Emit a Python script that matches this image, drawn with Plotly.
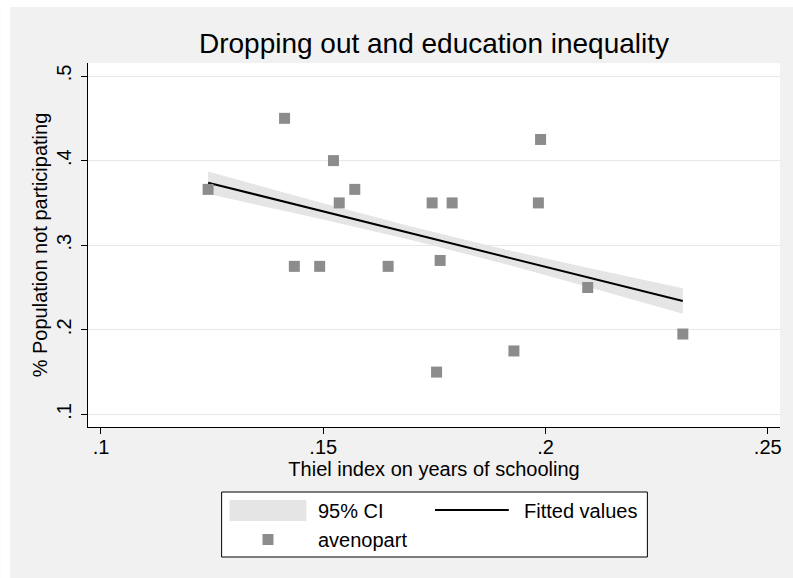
import plotly.graph_objects as go

# Country-level averages: Thiel index of schooling vs share not participating
thiel = [0.1241, 0.1413, 0.1523, 0.1571, 0.1536, 0.1435, 0.1492, 0.1646, 0.1989,
         0.1745, 0.1790, 0.1984, 0.1763, 0.2095, 0.2309, 0.1929, 0.1755]
avenopart = [0.366, 0.450, 0.400, 0.366, 0.350, 0.275, 0.275, 0.275, 0.425,
             0.350, 0.350, 0.350, 0.282, 0.250, 0.195, 0.175, 0.150]

# Linear fit with its 95% confidence band
fit_x = [0.1241, 0.150, 0.170, 0.190, 0.210, 0.2309]
fit_y = [0.3739, 0.3400, 0.3138, 0.2876, 0.2614, 0.2340]
ci_lo = [0.3605, 0.3305, 0.3058, 0.2791, 0.2499, 0.2190]
ci_hi = [0.3870, 0.3495, 0.3218, 0.2961, 0.2729, 0.2490]

x_ticks = [0.10, 0.15, 0.20, 0.25]
x_labels = [".1", ".15", ".2", ".25"]
y_ticks = [0.1, 0.2, 0.3, 0.4, 0.5]
y_labels = [".1", ".2", ".3", ".4", ".5"]

W, H = 793, 578
ML, MR, MT, MB = 88, 11, 63, 151
PW, PH = W - ML - MR, H - MT - MB

FONT = "Liberation Sans, Arial, Helvetica, sans-serif"
BG = "#f1f1f1"
MARK = "#8c8c8c"
BAND = "#e5e5e5"


def px(x):
    """pixel column -> paper x"""
    return (x - ML) / PW


def py(y):
    """pixel row -> paper y"""
    return (H - MB - y) / PH


fig = go.Figure()

fig.add_trace(go.Scatter(x=fit_x, y=ci_lo, mode="lines", line=dict(width=0),
                         hoverinfo="skip", showlegend=False))
fig.add_trace(go.Scatter(x=fit_x, y=ci_hi, mode="lines", line=dict(width=0),
                         fill="tonexty", fillcolor=BAND, name="95% CI",
                         showlegend=False))
fig.add_trace(go.Scatter(x=fit_x, y=fit_y, mode="lines",
                         line=dict(color="black", width=2),
                         name="Fitted values", showlegend=False))
fig.add_trace(go.Scatter(x=thiel, y=avenopart, mode="markers",
                         marker=dict(symbol="square", size=11, color=MARK),
                         name="avenopart", showlegend=False))

shapes = [
    # white edge strips of the outer frame
    dict(type="rect", xref="paper", yref="paper", layer="below",
         x0=px(0), x1=px(10), y0=py(H + 5), y1=py(-5),
         fillcolor="white", line=dict(width=0)),
    dict(type="rect", xref="paper", yref="paper", layer="below",
         x0=px(0), x1=px(W + 5), y0=py(7), y1=py(-5),
         fillcolor="white", line=dict(width=0)),
    # legend box
    dict(type="rect", xref="paper", yref="paper",
         x0=px(222), x1=px(649), y0=py(557), y1=py(492),
         fillcolor="white", line=dict(color="black", width=1)),
    # legend keys
    dict(type="rect", xref="paper", yref="paper",
         x0=px(230), x1=px(307), y0=py(521), y1=py(500),
         fillcolor=BAND, line=dict(width=0)),
    dict(type="line", xref="paper", yref="paper",
         x0=px(436), x1=px(510), y0=py(510), y1=py(510),
         line=dict(color="black", width=2)),
    dict(type="rect", xref="paper", yref="paper",
         x0=px(263), x1=px(274), y0=py(545), y1=py(534),
         fillcolor=MARK, line=dict(width=0)),
]

annotations = [
    dict(text="95% CI", x=px(317), y=py(511)),
    dict(text="Fitted values", x=px(523), y=py(511)),
    dict(text="avenopart", x=px(317), y=py(540)),
]
for a in annotations:
    a.update(xref="paper", yref="paper", xanchor="left", yanchor="middle",
             showarrow=False, font=dict(family=FONT, size=20, color="black"))

fig.update_layout(
    width=W, height=H, autosize=False,
    margin=dict(l=ML, r=MR, t=MT, b=MB, pad=0),
    paper_bgcolor=BG, plot_bgcolor="white",
    font=dict(family=FONT, size=20, color="black"),
    title=dict(text="Dropping out and education inequality",
               x=0.5, xref="paper", y=1 - 43 / H, yref="container",
               xanchor="center", yanchor="middle",
               font=dict(family=FONT, size=28, color="black")),
    showlegend=False,
    shapes=shapes,
    annotations=annotations,
    xaxis=dict(range=[0.09708, 0.25276], tickvals=x_ticks, ticktext=x_labels,
               ticks="outside", ticklen=6, tickcolor="black", tickwidth=1,
               ticklabelstandoff=-4,
               showline=True, linecolor="black", linewidth=1,
               showgrid=False, zeroline=False,
               tickfont=dict(size=20),
               title=dict(text="Thiel index on years of schooling",
                          font=dict(size=20), standoff=2)),
    yaxis=dict(range=[0.0851, 0.5154], tickvals=y_ticks, ticktext=y_labels,
               tickangle=-90, ticklabelstandoff=2,
               ticks="outside", ticklen=6, tickcolor="black", tickwidth=1,
               showline=True, linecolor="black", linewidth=1,
               showgrid=True, gridcolor="#e8e8e8", gridwidth=1,
               zeroline=False,
               tickfont=dict(size=20),
               title=dict(text="% Population not participating",
                          font=dict(size=20), standoff=0)),
)

fig.write_html("out.html")
